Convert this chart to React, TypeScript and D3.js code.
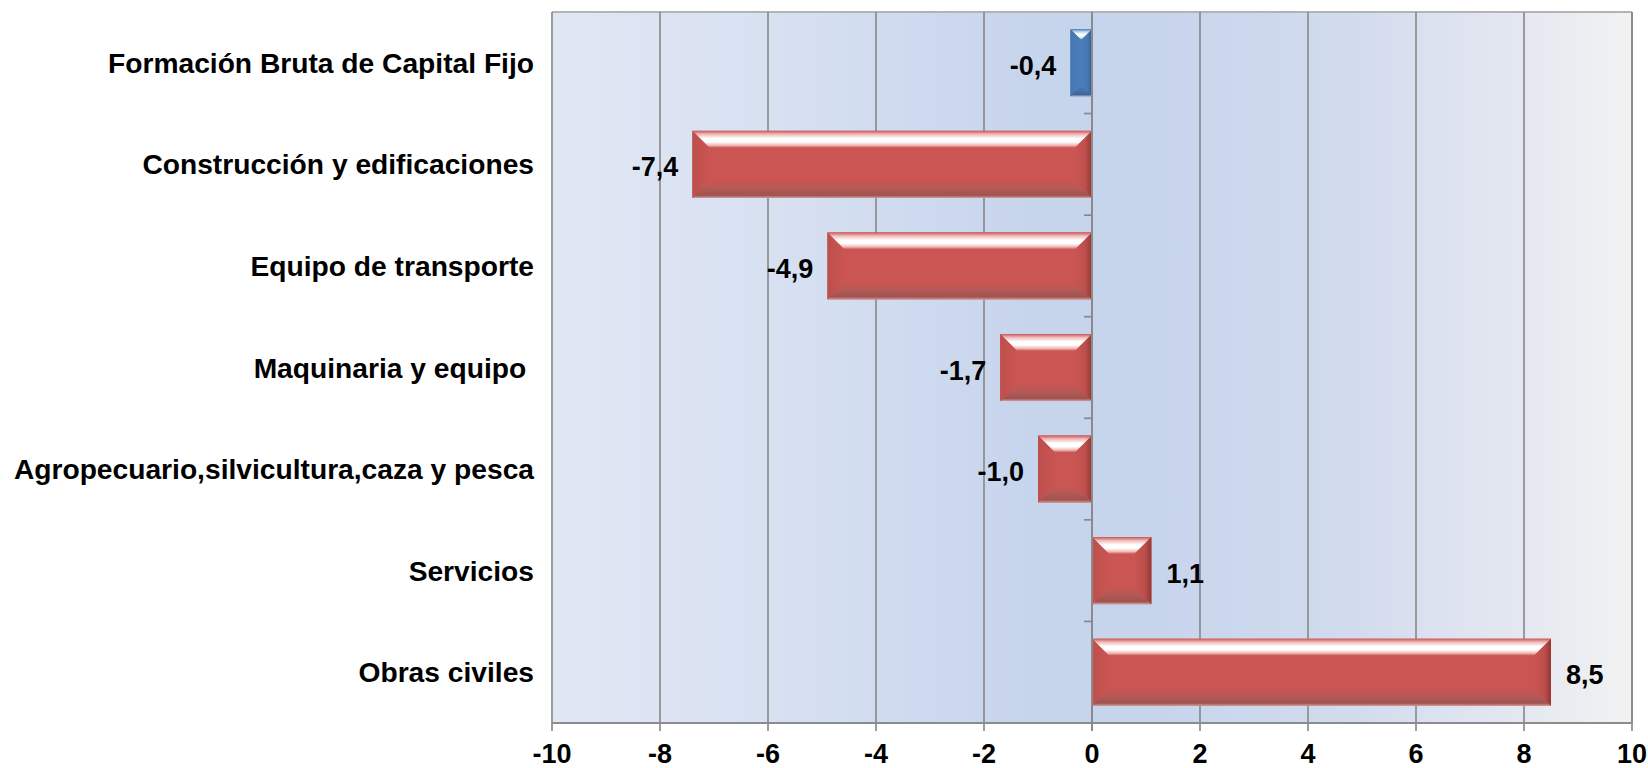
import React from 'react';
import * as d3 from 'd3';

// Variación anual por componente
const categories = [
  'Formación Bruta de Capital Fijo',
  'Construcción y edificaciones',
  'Equipo de transporte',
  'Maquinaria y equipo ',
  'Agropecuario,silvicultura,caza y pesca',
  'Servicios',
  'Obras civiles',
];
const values = [-0.4, -7.4, -4.9, -1.7, -1.0, 1.1, 8.5];
const highlighted = ['Formación Bruta de Capital Fijo'];
const xTicks = [-10, -8, -6, -4, -2, 0, 2, 4, 6, 8, 10];

const W = 1648;
const H = 768;
const margin = { top: 12, right: 16, bottom: 45, left: 552 };
const FONT = '"Liberation Sans", Arial, sans-serif';

const palettes = {
  red: { base: '#ca5552', topA: '#c85855', topB: '#ffffff', topC: '#f0b9b7', botA: '#b45957', botB: '#9f5350', botC: '#d29a98', left: '#bd4f4c', right: '#943835' },
  blue: { base: '#4a7ebb', topA: '#4f83c0', topB: '#ffffff', topC: '#b3cbe7', botA: '#4672a8', botB: '#3e6494', botC: '#9ab4d6', left: '#4677b2', right: '#355d8e' },
};

function Bevel({ x, y, w, h, kind }: { x: number; y: number; w: number; h: number; kind: 'red' | 'blue' }) {
  const p = palettes[kind];
  const b = Math.min(17, w / 2, h / 2);
  const x1 = x + w;
  const y1 = y + h;
  const id = kind;
  return (
    <g>
      <rect x={x} y={y} width={w} height={h} fill={p.base} />
      <polygon points={`${x},${y} ${x1},${y} ${x1 - b},${y + b} ${x + b},${y + b}`} fill={`url(#${id}-top)`} />
      <polygon points={`${x},${y1} ${x1},${y1} ${x1 - b},${y1 - b} ${x + b},${y1 - b}`} fill={`url(#${id}-bot)`} />
      <polygon points={`${x},${y} ${x + b},${y + b} ${x + b},${y1 - b} ${x},${y1}`} fill={`url(#${id}-left)`} />
      <polygon points={`${x1},${y} ${x1 - b},${y + b} ${x1 - b},${y1 - b} ${x1},${y1}`} fill={`url(#${id}-right)`} />
    </g>
  );
}

export default function App() {
  const x = d3.scaleLinear().domain([-10, 10]).range([margin.left, W - margin.right]);
  const y = d3.scaleBand<string>().domain(categories).range([margin.top, H - margin.bottom]).padding(0);
  const step = y.step();
  const barH = step * 0.66;
  const fmt = (v: number) => v.toFixed(1).replace('.', ',');
  const x0 = x(0);
  const plotTop = margin.top;
  const plotBottom = H - margin.bottom;

  return (
    <svg width={W} height={H} style={{ position: 'absolute', left: 0, top: 0, background: '#fff' }}>
      <defs>
        <linearGradient id="plotbg" x1="0" x2="1" y1="0" y2="0">
          <stop offset="0" stopColor="#e0e7f4" />
          <stop offset="0.2" stopColor="#d8e1f2" />
          <stop offset="0.45" stopColor="#c6d4ec" />
          <stop offset="0.55" stopColor="#c6d4ec" />
          <stop offset="0.75" stopColor="#d3dcee" />
          <stop offset="0.9" stopColor="#e5e8f1" />
          <stop offset="1" stopColor="#f2f2f3" />
        </linearGradient>
        {(['red', 'blue'] as const).map((k) => {
          const p = palettes[k];
          return (
            <React.Fragment key={k}>
              <linearGradient id={`${k}-top`} x1="0" x2="0" y1="0" y2="1">
                <stop offset="0" stopColor={p.topA} />
                <stop offset="0.2" stopColor={p.topC} />
                <stop offset="0.45" stopColor={p.topB} />
                <stop offset="0.65" stopColor={p.topB} />
                <stop offset="0.85" stopColor={p.topC} />
                <stop offset="1" stopColor={p.base} />
              </linearGradient>
              <linearGradient id={`${k}-bot`} x1="0" x2="0" y1="1" y2="0">
                <stop offset="0" stopColor={p.botC} />
                <stop offset="0.15" stopColor={p.botB} />
                <stop offset="0.55" stopColor={p.botA} />
                <stop offset="1" stopColor={p.base} />
              </linearGradient>
              <linearGradient id={`${k}-left`} x1="0" x2="1" y1="0" y2="0">
                <stop offset="0" stopColor={p.left} />
                <stop offset="1" stopColor={p.base} />
              </linearGradient>
              <linearGradient id={`${k}-right`} x1="1" x2="0" y1="0" y2="0">
                <stop offset="0" stopColor={p.right} />
                <stop offset="0.4" stopColor={p.left} />
                <stop offset="1" stopColor={p.base} />
              </linearGradient>
            </React.Fragment>
          );
        })}
      </defs>

      {/* plot area */}
      <rect x={x(-10)} y={plotTop} width={x(10) - x(-10)} height={plotBottom - plotTop} fill="url(#plotbg)" />
      <line x1={x(-10)} x2={x(10)} y1={plotTop} y2={plotTop} stroke="#b4b4b4" strokeWidth={2} />

      {/* gridlines */}
      {xTicks.map((t) => (
        <line key={t} x1={x(t)} x2={x(t)} y1={plotTop} y2={plotBottom} stroke="#8c8c8c" strokeWidth={t === 10 ? 2 : 1.7} />
      ))}

      {/* bars */}
      {categories.map((c, i) => {
        const v = values[i];
        const bx = Math.min(x(v), x0);
        const bw = Math.abs(x(v) - x0);
        const by = (y(c) as number) + (step - barH) / 2;
        return <Bevel key={c} x={bx} y={by} w={bw} h={barH} kind={highlighted.includes(c) ? 'blue' : 'red'} />;
      })}

      {/* x axis */}
      <line x1={x(-10)} x2={x(10)} y1={plotBottom} y2={plotBottom} stroke="#8c8c8c" strokeWidth={2} />
      {xTicks.map((t) => (
        <g key={t}>
          <line x1={x(t)} x2={x(t)} y1={plotBottom} y2={plotBottom + 8} stroke="#8c8c8c" strokeWidth={1.7} />
          <text x={x(t)} y={H - 14} textAnchor="middle" dominantBaseline="central" fontFamily={FONT} fontWeight="bold" fontSize={27} fill="#000">
            {t}
          </text>
        </g>
      ))}

      {/* y axis at zero */}
      <line x1={x0} x2={x0} y1={plotTop} y2={plotBottom + 8} stroke="#8a8a8a" strokeWidth={2} />
      {categories.map((c) => (
        <line key={c} x1={x0 - 8} x2={x0} y1={(y(c) as number) + step} y2={(y(c) as number) + step} stroke="#8a8a8a" strokeWidth={1.7} />
      ))}

      {/* category labels */}
      {categories.map((c) => (
        <text key={c} x={534} y={(y(c) as number) + step / 2} textAnchor="end" dominantBaseline="central" fontFamily={FONT} fontWeight="bold" fontSize={28.2} fill="#000" style={{ whiteSpace: 'pre' }}>
          {c}
        </text>
      ))}

      {/* data labels */}
      {categories.map((c, i) => {
        const v = values[i];
        const neg = v < 0;
        return (
          <text key={c} x={neg ? x(v) - 14 : x(v) + 15} y={(y(c) as number) + step / 2 + 3} textAnchor={neg ? 'end' : 'start'} dominantBaseline="central" fontFamily={FONT} fontWeight="bold" fontSize={27} fill="#000">
            {fmt(v)}
          </text>
        );
      })}
    </svg>
  );
}
